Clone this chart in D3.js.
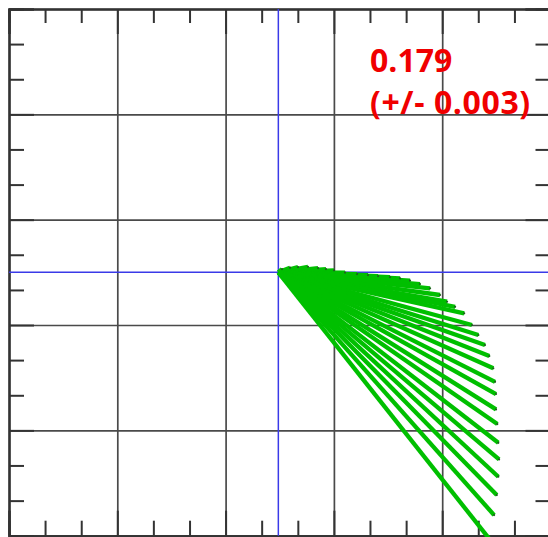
<!DOCTYPE html>
<meta charset="utf-8">
<script src="https://d3js.org/d3.v7.min.js"></script>
<style>
  body { margin: 0; background: #fff; }
</style>
<div id="my_dataviz"></div>
<script>

// grid / tick values (one major interval = 1 unit)
var majorTicks = [0, 1, 2, 3, 4, 5];
var minorTicks = [0.333, 0.667, 1.333, 1.667, 2.333, 2.667, 3.333, 3.667, 4.333, 4.667];

// origin of the fan (blue crosshair), in grid units
var originX = 2.487, originY = 2.5;

// end points of the green fan lines, relative to the origin (up = positive)
var fanDx = [0.034, 0.108, 0.182, 0.274, 0.367, 0.440, 0.514, 0.616, 0.727, 0.828,
             0.921, 1.031, 1.124, 1.216, 1.308, 1.401, 1.493, 1.558, 1.632, 1.716,
             1.788, 1.847, 1.908, 1.948, 1.985, 2.001, 2.010, 2.010, 2.022, 2.031,
             2.038, 2.031, 2.017, 1.992, 1.964];
var fanDy = [0.031, 0.044, 0.050, 0.053, 0.041, 0.031, 0.019, -0.002, -0.016, -0.026,
             -0.035, -0.045, -0.057, -0.078, -0.111, -0.152, -0.215, -0.279, -0.327, -0.389,
             -0.500, -0.595, -0.690, -0.795, -0.911, -1.039, -1.155, -1.301, -1.440, -1.618,
             -1.776, -1.940, -2.114, -2.304, -2.551];

var labelLines = ["0.179", "(+/- 0.003)"];

var width = 548, height = 537;

var svg = d3.select("#my_dataviz")
  .append("svg")
    .attr("width", width)
    .attr("height", height);

var x = d3.scaleLinear().domain([0, 5]).range([9, 550.5]);
var y = d3.scaleLinear().domain([0, 5]).range([535.7, 9]);

// grid lines
svg.append("g")
    .attr("class", "grid")
    .attr("transform", "translate(0," + y(0) + ")")
    .call(d3.axisTop(x).tickValues(majorTicks).tickSize(y(0) - y(5)).tickFormat(""));
svg.append("g")
    .attr("class", "grid")
    .attr("transform", "translate(" + x(0) + ",0)")
    .call(d3.axisRight(y).tickValues(majorTicks).tickSize(x(5) - x(0)).tickFormat(""));
svg.selectAll(".grid line").attr("stroke", "#4a4a4a").attr("stroke-width", 1.7);
svg.selectAll(".grid .domain").remove();

// tick marks on all four sides
function ticks(axis, tr, vals, size) {
  svg.append("g")
      .attr("class", "tk")
      .attr("transform", tr)
      .call(axis.tickValues(vals).tickSize(size).tickFormat(""));
}
ticks(d3.axisBottom(x), "translate(0," + y(5) + ")", minorTicks, 14);
ticks(d3.axisTop(x), "translate(0," + y(0) + ")", minorTicks, 15);
ticks(d3.axisRight(y), "translate(" + x(0) + ",0)", minorTicks, 15);
ticks(d3.axisLeft(y), "translate(" + x(5) + ",0)", minorTicks, 15);
ticks(d3.axisBottom(x), "translate(0," + y(5) + ")", majorTicks, 25);
ticks(d3.axisTop(x), "translate(0," + y(0) + ")", majorTicks, 25);
ticks(d3.axisRight(y), "translate(" + x(0) + ",0)", majorTicks, 25);
ticks(d3.axisLeft(y), "translate(" + x(5) + ",0)", majorTicks, 25);
svg.selectAll(".tk line").attr("stroke", "#333").attr("stroke-width", 2);
svg.selectAll(".tk .domain").attr("stroke", "#333").attr("stroke-width", 2);

// blue crosshair
svg.append("line")
    .attr("x1", x(0)).attr("x2", x(5))
    .attr("y1", y(originY)).attr("y2", y(originY))
    .attr("stroke", "#3a3ae8").attr("stroke-width", 1.5);
svg.append("line")
    .attr("x1", x(originX)).attr("x2", x(originX))
    .attr("y1", y(0)).attr("y2", y(5))
    .attr("stroke", "#3a3ae8").attr("stroke-width", 1.5);

// green fan
var fan = fanDx.map(function(d, i) { return {dx: d, dy: fanDy[i]}; });
svg.selectAll("line.fan")
  .data(fan)
  .enter()
  .append("line")
    .attr("class", "fan")
    .attr("x1", x(originX))
    .attr("y1", y(originY))
    .attr("x2", function(d) { return x(originX + d.dx); })
    .attr("y2", function(d) { return y(originY + d.dy); })
    .attr("stroke", "#00bf00")
    .attr("stroke-width", 4.3);

svg.selectAll("circle.tip")
  .data(fan)
  .enter()
  .append("circle")
    .attr("class", "tip")
    .attr("cx", function(d) { return x(originX + d.dx); })
    .attr("cy", function(d) { return y(originY + d.dy); })
    .attr("r", 1.1)
    .attr("fill", "#1f5f1f");

// red annotation
svg.selectAll("text.lbl")
  .data(labelLines)
  .enter()
  .append("text")
    .attr("class", "lbl")
    .attr("x", 370)
    .attr("y", function(d, i) { return 72 + i * 42; })
    .attr("fill", "#f00000")
    .style("font-family", "'Open Sans', sans-serif")
    .style("font-weight", "bold")
    .style("font-size", "32px")
    .style("letter-spacing", function(d, i) { return i === 1 ? "0.6px" : "0px"; })
    .text(function(d) { return d; });

</script>
